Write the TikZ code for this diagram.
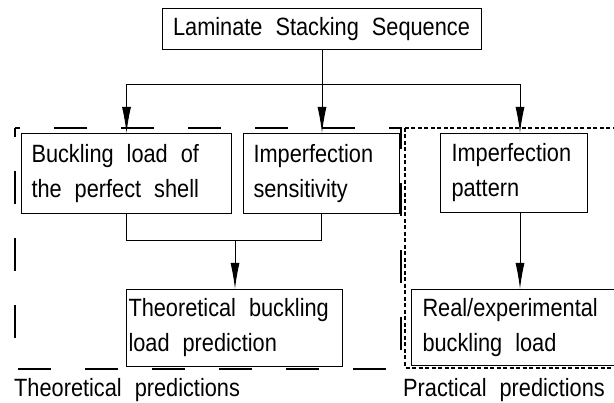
\documentclass[tikz,border=0pt]{standalone}
\usepackage{fontspec}
\setmainfont{Liberation Sans}[FakeStretch=0.87]
\usetikzlibrary{arrows.meta}
\tikzset{>={Latex[length=26pt,width=9pt]}}
\newcommand{\cadfont}{\fontsize{25}{35}\selectfont\spaceskip=13pt\relax}

\begin{document}
\begin{tikzpicture}[x=1pt, y=-1pt]
            \tikzset{block/.style={draw, line width=1pt, anchor=north west, inner xsep=10pt, inner ysep=0pt, align=left, font=\cadfont, execute at begin node={\spaceskip=13pt\relax}}}
            \tikzset{link/.style={line width=1pt}}
            \tikzset{caption/.style={anchor=base west, inner sep=0pt, font=\cadfont}}
            \useasboundingbox (0, 0) rectangle (614, 403);

            \node[block, anchor=center, inner xsep=4pt, minimum width=319pt, minimum height=41pt] (stack) at (321.5, 29.5) {Laminate Stacking Sequence};
            \node[block, minimum width=208pt, minimum height=80pt, text width=190pt] (buckle) at (21, 133) {Buckling load of\\the perfect shell};
            \node[block, minimum width=154pt, minimum height=80pt, text width=136pt] (sens) at (243, 133) {Imperfection\\sensitivity};
            \node[block, minimum width=143pt, minimum height=79pt, text width=125pt, inner xsep=11pt] (pattern) at (440, 133) {Imperfection\\pattern};
            \node[block, minimum width=216pt, minimum height=77pt, text width=212pt, inner xsep=2pt] (theory) at (126, 289) {Theoretical buckling\\load prediction};
            \node[block, minimum width=200pt, minimum height=76pt, text width=186pt, inner xsep=11pt] (real) at (411, 289) {Real/experimental\\buckling load};

            \draw[line width=1.8pt, dash pattern=on 33pt off 34pt, dash phase=24pt] (15, 128) rectangle (401, 369);
            \draw[line width=1.5pt, dash pattern=on 4pt off 2.5pt] (405, 128) rectangle (625, 368);
            \node[caption] (thlabel) at (14, 397) {Theoretical predictions};
            \node[caption] (prlabel) at (403, 397) {Practical predictions};

            \coordinate (fork) at (322, 85);
            \coordinate (patfork) at (520, 85);
            \coordinate (merge) at (235, 241);
            \draw[link] (stack.south -| fork) -- (fork);
            \draw[link, ->] (fork) -| (buckle.north);
            \draw[link, ->] (fork) -- (fork |- sens.north);
            \draw[link, ->] (fork) -- (patfork) -- (patfork |- pattern.north);
            \draw[link, ->] (patfork |- pattern.south) -- (patfork |- real.north);
            \draw[link] (buckle.south) |- (sens.south |- merge) -- (sens.south);
            \draw[link, ->] (merge) -- (merge |- theory.north);
        \end{tikzpicture}
\end{document}
